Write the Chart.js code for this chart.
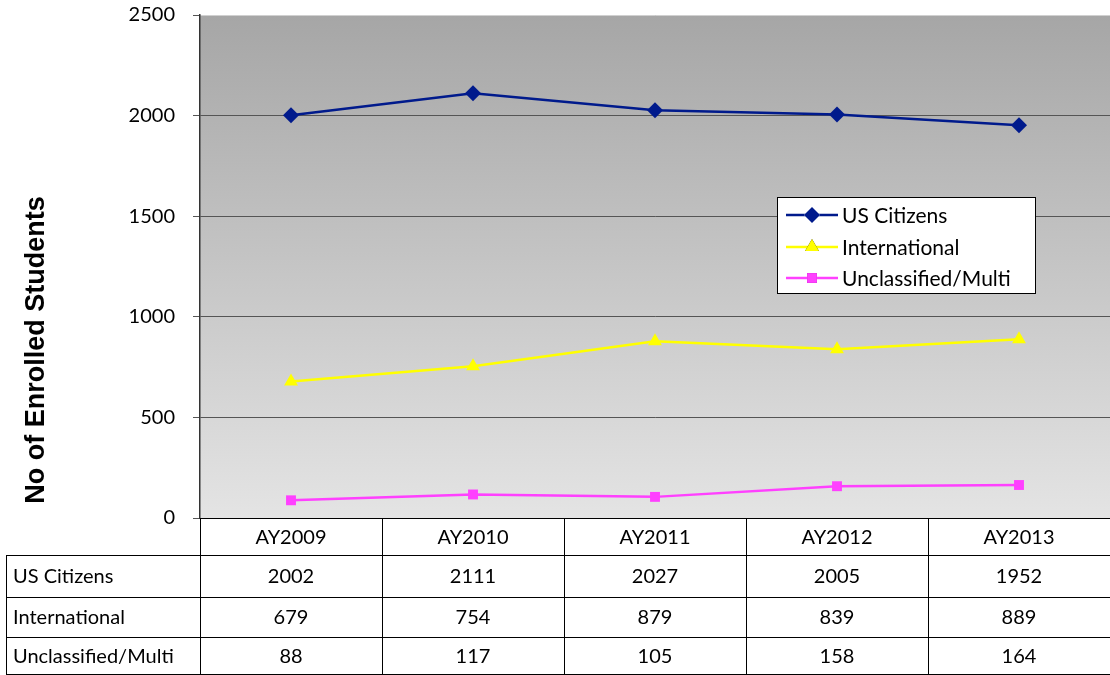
<!DOCTYPE html>
<html><head><meta charset="utf-8">
<script src="https://cdn.jsdelivr.net/npm/chart.js@4/dist/chart.umd.min.js"></script>
<style>html,body{margin:0;padding:0;background:#fff;overflow:hidden}#wrap{width:1110px;height:675px;position:relative}canvas{display:block}</style>
</head><body><div id="wrap"><canvas id="c" width="1110" height="675" style="width:1110px;height:675px"></canvas></div>
<script>
const categories = ['AY2009','AY2010','AY2011','AY2012','AY2013'];
const usCitizens = [2002, 2111, 2027, 2005, 1952];
const international = [679, 754, 879, 839, 889];
const unclassified = [88, 117, 105, 158, 164];
const seriesNames = ['US Citizens','International','Unclassified/Multi'];
const yTicks = [0, 500, 1000, 1500, 2000, 2500];
const yTitle = 'No of Enrolled Students';

const FONT = 'Lato, "Open Sans", sans-serif';
const colors = ['#001a8c', '#ffff00', '#ff40ff'];
const styles = ['rectRot', 'triangle', 'rect'];
const radii = [8, 8, 7];
const allSeries = [usCitizens, international, unclassified];

const bgPlugin = {
  id: 'bg',
  beforeDraw(chart) {
    const {ctx, chartArea: a} = chart;
    const g = ctx.createLinearGradient(0, a.top, 0, a.bottom);
    g.addColorStop(0, '#a6a6a6');
    g.addColorStop(1, '#e4e4e4');
    ctx.save();
    ctx.fillStyle = g;
    ctx.fillRect(a.left, a.top, a.right - a.left, a.bottom - a.top);
    ctx.restore();
  }
};

const tablePlugin = {
  id: 'table',
  afterDraw(chart) {
    const {ctx, chartArea: a} = chart;
    const xs = chart.scales.x;
    const rowY = [a.bottom, 555, 597, 637, 675];
    const labelLeft = 6;
    const n = categories.length;
    const colW = (a.right - a.left) / n;
    ctx.save();
    ctx.strokeStyle = '#000';
    ctx.lineWidth = 1;
    ctx.beginPath();
    ctx.moveTo(a.left, rowY[0] + 0.5); ctx.lineTo(a.right, rowY[0] + 0.5);
    for (let i = 1; i < rowY.length - 1; i++) {
      ctx.moveTo(labelLeft, rowY[i] + 0.5); ctx.lineTo(a.right, rowY[i] + 0.5);
    }
    ctx.moveTo(labelLeft, rowY[4] - 0.5); ctx.lineTo(a.right, rowY[4] - 0.5);
    ctx.moveTo(labelLeft + 0.5, rowY[1]); ctx.lineTo(labelLeft + 0.5, rowY[4]);
    for (let i = 0; i < n; i++) {
      const x = Math.round(a.left + i * colW) + 0.5;
      ctx.moveTo(x, rowY[0]); ctx.lineTo(x, rowY[4]);
    }
    ctx.stroke();
    ctx.fillStyle = '#000';
    ctx.font = '20px ' + FONT;
    ctx.textBaseline = 'middle';
    ctx.textAlign = 'center';
    categories.forEach((c, i) => {
      ctx.fillText(c, xs.getPixelForValue(i), (rowY[0] + rowY[1]) / 2 + 1);
    });
    allSeries.forEach((s, r) => {
      const cy = (rowY[r + 1] + rowY[r + 2]) / 2 + 1;
      ctx.textAlign = 'left';
      ctx.fillText(seriesNames[r], 13, cy);
      ctx.textAlign = 'center';
      s.forEach((v, i) => ctx.fillText(String(v), xs.getPixelForValue(i), cy));
    });
    ctx.save();
    ctx.translate(37, 350);
    ctx.rotate(-Math.PI / 2);
    ctx.textAlign = 'center';
    ctx.font = 'bold 27px "Liberation Sans", Arial, sans-serif';
    ctx.fillText(yTitle, 0, 0);
    ctx.restore();
    const lx = 777, ly = 197, lw = 258, lh = 96;
    ctx.fillStyle = '#fff';
    ctx.fillRect(lx, ly, lw, lh);
    ctx.strokeStyle = '#000';
    ctx.lineWidth = 1;
    ctx.strokeRect(lx + 0.5, ly + 0.5, lw, lh);
    const rows = [215, 247, 278];
    seriesNames.forEach((name, i) => {
      const y = rows[i];
      ctx.strokeStyle = colors[i];
      ctx.lineWidth = 2.5;
      ctx.beginPath(); ctx.moveTo(786, y); ctx.lineTo(838, y); ctx.stroke();
      Chart.helpers.drawPoint(ctx, {pointStyle: styles[i], radius: radii[i], rotation: 0, borderWidth: 0}, 812, y);
      ctx.fillStyle = colors[i];
      ctx.fill();
      ctx.fillStyle = '#000';
      ctx.font = '21px ' + FONT;
      ctx.textAlign = 'left';
      ctx.fillText(name, 842, y + 1);
    });
    ctx.restore();
  }
};

const datasets = allSeries.map((s, i) => ({
  label: seriesNames[i],
  data: s,
  borderColor: colors[i],
  backgroundColor: colors[i],
  borderWidth: 2.5,
  pointStyle: styles[i],
  pointRadius: radii[i],
  pointHoverRadius: radii[i],
  pointBorderWidth: 0,
  tension: 0,
  fill: false
}));

new Chart(document.getElementById('c'), {
  type: 'line',
  data: { labels: categories, datasets },
  options: {
    responsive: false,
    animation: false,
    events: [],
    layout: { autoPadding: false, padding: { top: 15, right: -5, bottom: 157, left: 0 } },
    plugins: { legend: { display: false }, tooltip: { enabled: false } },
    scales: {
      x: { display: false, offset: true, grid: { display: false } },
      y: {
        min: 0, max: 2500,
        afterFit(s) { s.width = 200; s.paddingTop = 0; s.paddingBottom = 0; s.paddingLeft = 0; s.paddingRight = 0; },
        afterBuildTicks(s) { s.ticks = yTicks.map(v => ({ value: v })); },
        ticks: { color: '#000', font: { family: FONT, size: 20 }, padding: 18, callback: v => String(v) },
        grid: {
          color: c => (c.tick && c.tick.value === 2500) ? '#d0d0d0' : '#555',
          lineWidth: 1, tickLength: 7, drawTicks: true, tickColor: '#555'
        },
        border: { color: '#333', width: 1.5 }
      }
    }
  },
  plugins: [bgPlugin, tablePlugin]
});
</script></body></html>
